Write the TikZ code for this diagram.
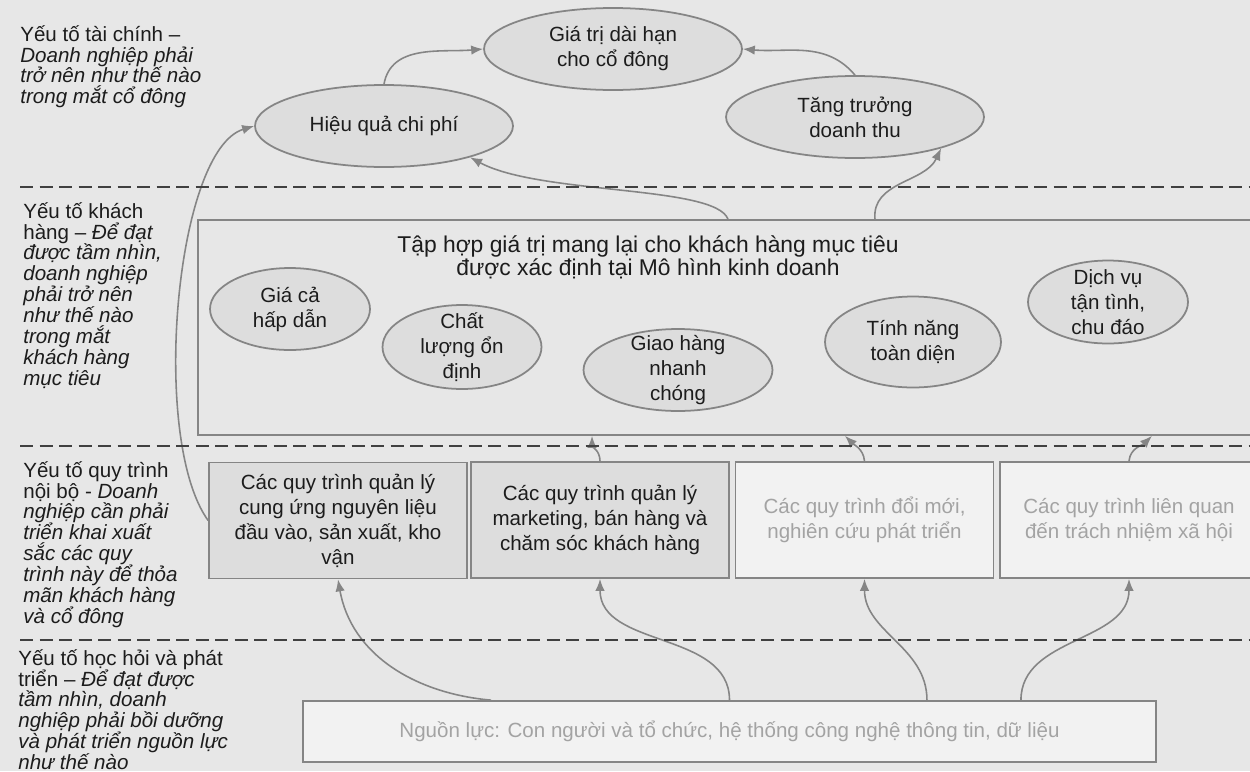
\documentclass[tikz,border=0pt]{standalone}
\usepackage{fontspec}
\setmainfont{Liberation Sans}
\usetikzlibrary{shapes.geometric,arrows.meta}

\definecolor{bggray}{HTML}{E7E7E7}
\definecolor{fillgray}{HTML}{DDDDDD}
\definecolor{palegray}{HTML}{F2F2F2}
\definecolor{edgegray}{HTML}{858585}
\definecolor{fadetext}{HTML}{A3A3A3}
\definecolor{inktext}{HTML}{1C1C1C}

\begin{document}
\begin{tikzpicture}[x=0.02cm,y=0.02cm,
  font=\fontsize{11.7}{14.2}\selectfont, text=inktext,
  goal/.style={ellipse, draw=edgegray, line width=1pt, fill=fillgray, inner sep=0pt},
  goaltext/.style={align=center, inner sep=0pt},
  procbox/.style={draw=edgegray, line width=1pt, fill=fillgray, align=center, inner sep=1pt, minimum width=5.16cm, minimum height=2.32cm},
  procfaint/.style={procbox, fill=palegray, text=fadetext},
  layertext/.style={anchor=north west, align=left, inner sep=0pt, font=\fontsize{11.7}{11.9}\selectfont},
  layerline/.style={draw=black!75, line width=1.1pt, dash pattern=on 7.4pt off 3.7pt},
  link/.style={draw=edgegray, line width=0.9pt, -{Latex[length=2.4mm,width=1.9mm]}}
]

\useasboundingbox (0,0) rectangle (1250,-771);
\fill[bggray] (0,0) rectangle (1250,-771);

% layer captions
\node[layertext] (fin) at (20,-25) {Yếu tố tài chính –\\\textit{Doanh nghiệp phải}\\\textit{trở nên như thế nào}\\\textit{trong mắt cổ đông}};
\node[layertext] (cus) at (23,-202) {Yếu tố khách\\hàng – \textit{Để đạt}\\\textit{được tầm nhìn,}\\\textit{doanh nghiệp}\\\textit{phải trở nên}\\\textit{như thế nào}\\\textit{trong mắt}\\\textit{khách hàng}\\\textit{mục tiêu}};
\node[layertext] (int) at (23,-461) {Yếu tố quy trình\\nội bộ - \textit{Doanh}\\\textit{nghiệp cần phải}\\\textit{triển khai xuất}\\\textit{sắc các quy}\\\textit{trình này để thỏa}\\\textit{mãn khách hàng}\\\textit{và cổ đông}};
\node[layertext] (lrn) at (18,-649) {Yếu tố học hỏi và phát\\triển – \textit{Để đạt được}\\\textit{tầm nhìn, doanh}\\\textit{nghiệp phải bồi dưỡng}\\\textit{và phát triển nguồn lực}\\\textit{như thế nào}};

% financial goals
\node[goal, minimum width=5.16cm, minimum height=1.64cm, label={[goaltext]center:Giá trị dài hạn\\cho cổ đông}] (gt) at (613,-49) {};
\node[goal, minimum width=5.16cm, minimum height=1.64cm, label={[goaltext]center:Hiệu quả chi phí}] (hq) at (384,-126) {};
\node[goal, minimum width=5.16cm, minimum height=1.64cm, label={[goaltext]center:Tăng trưởng\\doanh thu}] (tt) at (855,-117) {};

% customer value
\node[draw=edgegray, line width=1pt, minimum width=21.2cm, minimum height=4.3cm, inner sep=0pt] (vp) at (728,-327.5) {};
\node[align=center, font=\fontsize{13}{13}\selectfont] (vptitle) at (648,-257) {Tập hợp giá trị mang lại cho khách hàng mục tiêu\\được xác định tại Mô hình kinh doanh};
\node[goal, minimum width=3.2cm, minimum height=1.64cm, label={[goaltext]center:Giá cả\\hấp dẫn}] (gc) at (290,-309) {};
\node[goal, minimum width=3.18cm, minimum height=1.68cm, label={[goaltext]center:Chất\\lượng ổn\\định}] (cl) at (462,-347) {};
\node[goal, minimum width=3.78cm, minimum height=1.64cm, label={[goaltext]center:Giao hàng\\nhanh\\chóng}] (gh) at (678,-370) {};
\node[goal, minimum width=3.52cm, minimum height=1.82cm, label={[goaltext]center:Tính năng\\toàn diện}] (tn) at (913,-342) {};
\node[goal, minimum width=3.2cm, minimum height=1.66cm, label={[goaltext]center:Dịch vụ\\tận tình,\\chu đáo}] (dv) at (1108,-302) {};

% internal processes
\node[procbox] (sup) at (338,-520.5) {Các quy trình quản lý\\cung ứng nguyên liệu\\đầu vào, sản xuất, kho\\vận};
\node[procbox] (mkt) at (600,-520) {Các quy trình quản lý\\marketing, bán hàng và\\chăm sóc khách hàng};
\node[procfaint] (rnd) at (864.5,-520) {Các quy trình đổi mới,\\nghiên cứu phát triển};
\node[procfaint] (csr) at (1129,-520) {Các quy trình liên quan\\đến trách nhiệm xã hội};

% resources
\node[procfaint, minimum width=17.06cm, minimum height=1.22cm] (res) at (729.5,-731.5) {Nguồn lực: Con người và tổ chức, hệ thống công nghệ thông tin, dữ liệu};

% links
\draw[link] (hq.north) to[out=80,in=185] (gt.west);
\draw[link] (tt.north) to[out=130,in=-5] (gt.east);
\draw[link] (vp.north) .. controls (715,-185) and (540,-195) .. (hq.-20);
\draw[link] ([xshift=2.94cm]vp.north) to[out=95,in=-115] (tt.-20);
\draw[link] (sup.west) .. controls (150,-440) and (175,-150) .. (hq.west);
\draw[link] (mkt.north) to[out=90,in=-90] ([xshift=-2.72cm]vp.south);
\draw[link] (rnd.north) to[out=95,in=-45] ([xshift=2.34cm]vp.south);
\draw[link] (csr.north) to[out=85,in=-135] ([xshift=8.48cm]vp.south);
\draw[link] ([xshift=-4.77cm]res.north) to[out=175,in=-80] (sup.south);
\draw[link] (res.north) to[out=90,in=-90] (mkt.south);
\draw[link] ([xshift=3.95cm]res.north) to[out=90,in=-90] (rnd.south);
\draw[link] ([xshift=5.83cm]res.north) to[out=90,in=-90] (csr.south);

% layer borders
\foreach \y in {187,446,640}
  \draw[layerline] (20,-\y) -- (1250,-\y);

\end{tikzpicture}
\end{document}
